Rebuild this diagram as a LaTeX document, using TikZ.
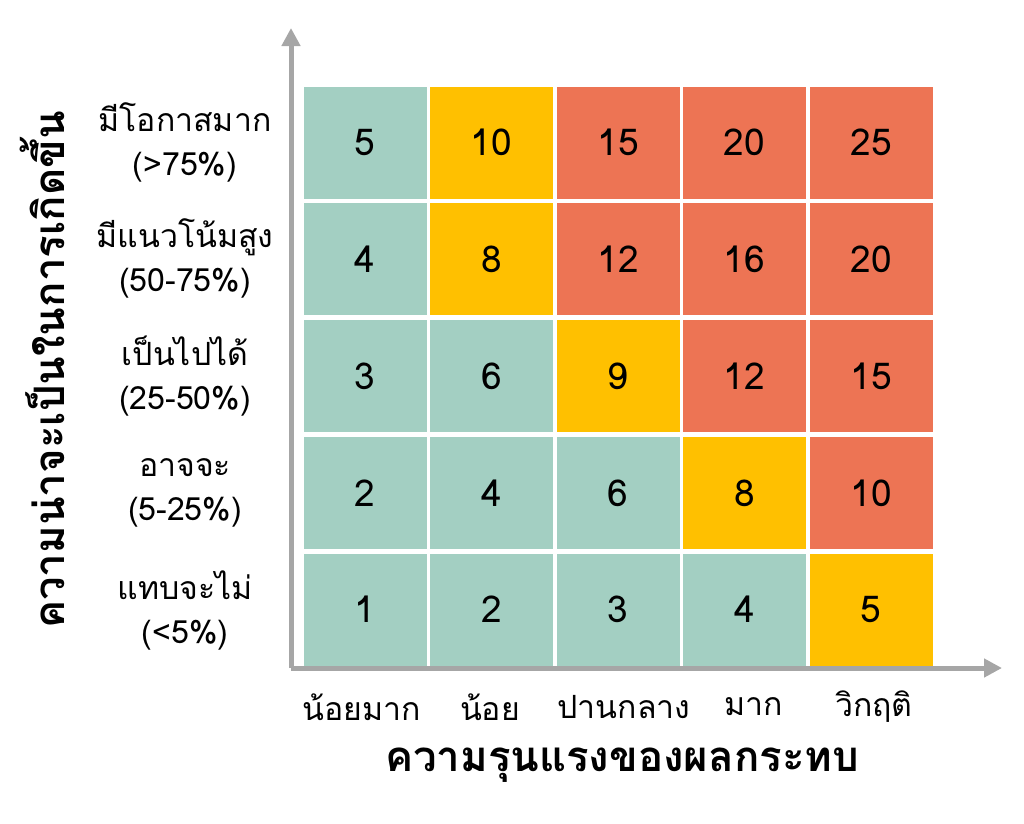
\documentclass[tikz,border=0pt]{standalone}
\usepackage{fontspec}
\setmainfont[Script=Thai]{Loma}
\usepackage{tikz}
\usetikzlibrary{arrows.meta}
\definecolor{cteal}{HTML}{A3CFC2}
\definecolor{cyel}{HTML}{FFC000}
\definecolor{cred}{HTML}{ED7454}
\definecolor{caxis}{HTML}{A6A6A6}
\begin{document}
\begin{tikzpicture}[x=1pt,y=-1pt,
 cell/.style={minimum width=123pt,minimum height=112pt,inner sep=0pt,font=\fontsize{37}{40}\selectfont},
 lab/.style={align=center,font=\fontsize{32}{44}\selectfont},
 ttl/.style={font=\fontsize{42}{46}\selectfont\bfseries},
 ax/.style={caxis,line width=5pt,-{Triangle[length=18pt,width=18pt]}}]
\useasboundingbox (0,0) rectangle (1024,823);
\foreach \r/\a/\b/\c/\d/\e in {0/5/10/15/20/25,1/4/8/12/16/20,2/3/6/9/12/15,3/2/4/6/8/10,4/1/2/3/4/5}{
 \foreach \cc/\v in {0/\a,1/\b,2/\c,3/\d,4/\e}{
  \pgfmathtruncatemacro\s{\v}
  \ifnum\s<8 \def\col{cteal}\else
    \ifnum\s<11 \def\col{cyel}\else \def\col{cred}\fi\fi
  \ifnum\s=5 \ifnum\cc=0 \def\col{cteal}\else \def\col{cyel}\fi\fi
  \ifnum\s=10 \ifnum\r=0 \def\col{cyel}\else \def\col{cred}\fi\fi
  \node[cell,fill=\col] (c\r\cc) at (365+126.5*\cc,142.5+116.8*\r) {\v};
 }}
\coordinate (o) at (291,668);
\coordinate (yt) at (291,28);
\coordinate (xt) at (1002,668);
\draw[ax] (o) -- (yt);
\draw[ax] (o) -- (xt);
\node[lab] (r0) at (185,142) {มีโอกาสมาก\\(>75\%)};
\node[lab] (r1) at (185,258) {มีแนวโน้มสูง\\(50-75\%)};
\node[lab] (r2) at (185,376) {เป็นไปได้\\(25-50\%)};
\node[lab] (r3) at (185,493) {อาจจะ\\(5-25\%)};
\node[lab] (r4) at (185,610) {แทบจะไม่\\(<5\%)};
\node[lab] (k0) at (362,707) {น้อยมาก};
\node[lab] (k1) at (490,707) {น้อย};
\node[lab] (k2) at (624,707) {ปานกลาง};
\node[lab] (k3) at (754,707) {มาก};
\node[lab] (k4) at (874,707) {วิกฤติ};
\node[ttl] (xl) at (622,765) {ความรุนแรงของผลกระทบ};
\node[ttl,rotate=90] (yl) at (42,370) {ความน่าจะเป็นในการเกิดขึ้น};
\end{tikzpicture}
\end{document}
